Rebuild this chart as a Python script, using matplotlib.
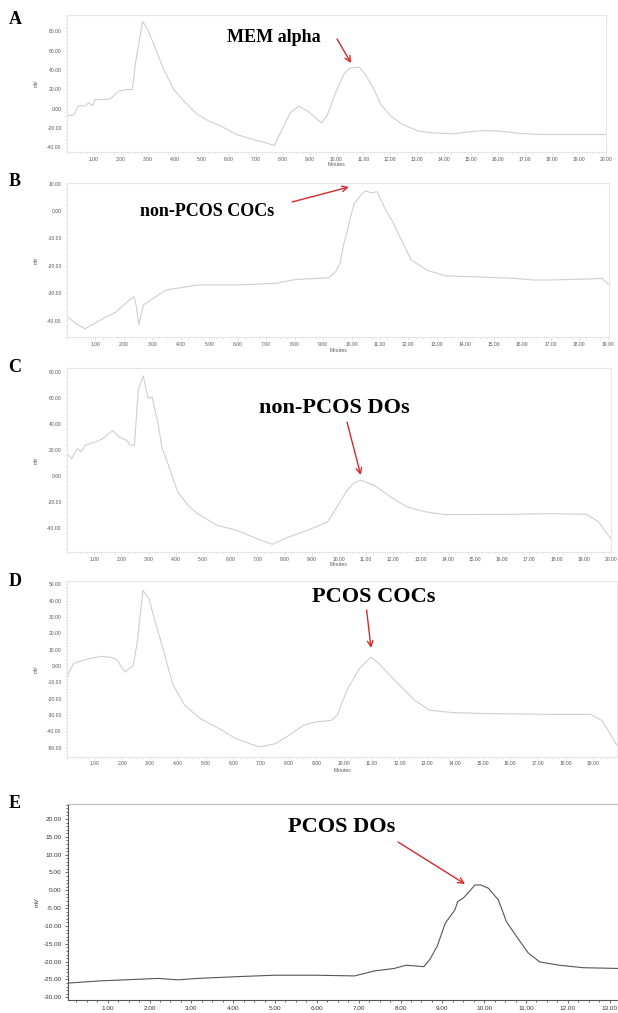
import matplotlib
matplotlib.use("Agg")
import matplotlib.pyplot as plt
from matplotlib.patches import FancyArrowPatch
from matplotlib.ticker import MultipleLocator, AutoMinorLocator, FormatStrFormatter

plt.rcParams['axes.unicode_minus'] = False
plt.rcParams['font.family'] = ['Liberation Sans', 'DejaVu Sans']

# chromatogram A - MEM alpha
a_min = [0.0, 0.26, 0.4, 0.52, 0.66, 0.8, 0.95, 1.03, 1.32, 1.61, 1.9, 2.2, 2.42, 2.56, 2.81, 3.0,
         3.3, 3.59, 3.96, 4.4, 4.84, 5.28, 5.72, 6.3, 6.9, 7.47, 7.69, 7.98, 8.28, 8.6, 8.94, 9.23,
         9.45, 9.67, 9.96, 10.26, 10.48, 10.85, 11.07, 11.36, 11.65, 12.02, 12.46, 13.05, 13.6,
         14.36, 14.8, 15.4, 16.1, 16.85, 17.7, 18.8, 20.0]
a_mv = [-8, -6.2, 2.4, 3.1, 2.4, 5.9, 3.1, 9.3, 9.3, 10, 17.9, 19.7, 19.7, 50.7, 90.3, 81.7,
        61, 40.3, 19.7, 5.9, -6.2, -13.1, -18.3, -26.9, -32, -36.2, -38.3, -21.7, -4.5, 2.4, -2.8, -9.7,
        -14.8, -6.2, 16.2, 35.2, 42, 42.8, 35.2, 21.4, 4.1, -7.9, -16.6, -23.4, -25.2,
        -26.2, -24.5, -22.8, -23.4, -25.9, -26.9, -26.9, -26.9]

# chromatogram B - non-PCOS COCs
b_min = [0.0, 0.3, 0.63, 1.14, 1.7, 2.25, 2.36, 2.44, 2.52, 2.6, 2.69, 3.2, 3.5, 4.0, 4.6, 6.0,
         7.35, 8.05, 9.2, 9.45, 9.6, 9.73, 9.86, 10.0, 10.1, 10.37, 10.5, 10.7, 10.9, 11.2, 11.45,
         11.7, 12.1, 12.65, 13.3, 14.3, 15.7, 16.4, 17.0, 18.4, 18.8, 19.05]
b_mv = [-38.5, -41, -43, -40, -37, -32, -31.3, -35, -41.6, -38, -34.3, -30.7, -28.8, -28, -27, -27,
        -26.4, -25, -24.4, -22, -19, -11.9, -7, -0.8, 2.7, 6.3, 7.3, 6.6, 7, 0.3, -4,
        -9.4, -17.9, -21.6, -23.7, -24, -24.6, -25.2, -25.2, -24.8, -24.6, -27]

# chromatogram C - non-PCOS DOs
c_min = [0.0, 0.17, 0.38, 0.52, 0.67, 1.03, 1.32, 1.68, 1.9, 2.19, 2.33, 2.48, 2.62, 2.8, 2.99,
         3.13, 3.35, 3.5, 3.71, 4.07, 4.5, 4.8, 5.52, 6.25, 6.97, 7.55, 7.99, 8.85, 9.58, 10.0,
         10.3, 10.55, 10.8, 11.3, 11.9, 12.5, 13.2, 13.9, 14.9, 16.4, 17.8, 19.1, 19.55, 19.8, 20.0]
c_mv = [17.2, 13.3, 21, 18.5, 23.6, 26, 28.7, 35, 30, 27.4, 23.6, 23.6, 66, 77, 59.5,
        60.8, 40, 21, 9.5, -12.3, -23.8, -29, -38, -41.8, -48.2, -52.6, -48.2, -41.8, -35.4, -21.3,
        -11, -5.5, -3.3, -7.2, -16.2, -23.8, -27.7, -29.7, -29.7, -29.5, -29, -29.5, -35.4, -43, -48.2]

# chromatogram D - PCOS COCs
d_min = [0.0, 0.1, 0.24, 0.38, 0.81, 1.24, 1.67, 1.81, 1.96, 2.1, 2.24, 2.38, 2.53, 2.74, 2.96,
         3.17, 3.38, 3.81, 4.24, 4.81, 5.38, 6.1, 6.95, 7.53, 8.1, 8.53, 8.96, 9.53, 9.75, 10.1,
         10.55, 10.97, 11.26, 11.83, 12.55, 13.1, 13.96, 15.4, 17.5, 18.9, 19.3, 19.6, 19.85]
d_mv = [-7.8, -2.7, 1.4, 2.4, 4.5, 5.9, 5.1, 3.5, -0.6, -3.7, -1.6, -0.2, 13.7, 46.3, 41,
        28, 15.7, -10.8, -24, -32.2, -37.3, -44.5, -49.6, -47.5, -41.4, -36.3, -34.3, -33.3, -30.2, -14.9,
        -1.6, 5.5, 1.4, -8.8, -21, -27.1, -28.6, -29.2, -29.6, -29.6, -33.3, -41.4, -48.6]

# chromatogram E - PCOS DOs
e_min = [0.06, 0.8, 2.2, 2.68, 3.14, 4.1, 5.0, 5.97, 6.9, 7.38, 7.85, 8.13, 8.56, 8.7, 8.88, 9.07,
         9.3, 9.37, 9.5, 9.64, 9.78, 9.92, 10.1, 10.34, 10.53, 10.77, 11.05, 11.33, 11.8, 12.37, 13.2]
e_mv = [-26, -25.4, -24.7, -25.1, -24.7, -24.2, -23.8, -23.8, -24, -22.6, -21.9, -21, -21.4, -19.4,
        -15.6, -9.2, -5.5, -3.1, -2.2, -0.4, 1.5, 1.5, 0.6, -2.7, -8.7, -12.9, -17.5, -20.1, -21, -21.7, -21.9]

panel_labels = ['A', 'B', 'C', 'D', 'E']
peak_labels = ['MEM alpha', 'non-PCOS COCs', 'non-PCOS DOs', 'PCOS COCs', 'PCOS DOs']

W, H = 618, 1013


# pixel box (left, top, right, bottom) -> figure fraction rect
def box(l, t, r, b):
    return [l / W, 1 - b / H, (r - l) / W, (b - t) / H]


# pixel point -> figure fraction
def px(x, y):
    return (x / W, 1 - y / H)


fig = plt.figure(figsize=(6.18, 10.13), dpi=100)

# faint chromatograms A-D: data, rect, xlim, ylim, y step, Minutes y, tick pad
panels = [
    (a_min, a_mv, box(67, 15, 606, 152), (0, 20), (-45, 97), 20, 165, 2),
    (b_min, b_mv, box(67, 183, 609, 337), (0, 19.05), (-46, 10.2), 10, 350, 2),
    (c_min, c_mv, box(67, 368, 611, 552), (0, 20), (-58.5, 83), 20, 564, 2),
    (d_min, d_mv, box(67, 581, 617, 757), (0, 19.85), (-55.7, 52), 10, 770, 0.8),
]

for xs, ys, rect, xl, yl, ystep, min_y, pad in panels:
    ax = fig.add_axes(rect)
    ax.plot(xs, ys, color='#cfcfcf', lw=0.8)
    ax.set_xlim(*xl)
    ax.set_ylim(*yl)
    ax.xaxis.set_major_locator(MultipleLocator(1))
    ax.xaxis.set_minor_locator(AutoMinorLocator(4))
    ax.yaxis.set_major_locator(MultipleLocator(ystep))
    ax.yaxis.set_minor_locator(AutoMinorLocator(5))
    ax.xaxis.set_major_formatter(FormatStrFormatter('%.2f'))
    ax.yaxis.set_major_formatter(FormatStrFormatter('%.2f'))
    ax.set_xticks([t for t in ax.get_xticks() if 1 <= t <= xl[1] + 0.01])
    for s in ax.spines.values():
        s.set_color('#e6e6e6')
        s.set_linewidth(0.8)
    ax.tick_params(which='both', colors='#dcdcdc', labelcolor='#555555', labelsize=3.6,
                   length=1.8, width=0.5, pad=2)
    ax.tick_params(axis='x', pad=pad)
    ax.tick_params(which='minor', length=1.1)
    ax.set_ylabel('mV', fontsize=3.6, color='#555555', labelpad=6)
    fig.text(rect[0] + rect[2] / 2, 1 - min_y / H, 'Minutes', fontsize=3.6, color='#555555',
             ha='center', va='center')

# darker chromatogram E
axe = fig.add_axes(box(68, 804, 618, 1000))
axe.plot(e_min, e_mv, color='#555555', lw=0.8)
axe.set_xlim(0.05, 13.2)
axe.set_ylim(-30.75, 24.2)
axe.xaxis.set_major_locator(MultipleLocator(1))
axe.xaxis.set_minor_locator(AutoMinorLocator(4))
axe.yaxis.set_major_locator(MultipleLocator(5))
axe.yaxis.set_minor_locator(AutoMinorLocator(5))
axe.xaxis.set_major_formatter(FormatStrFormatter('%.2f'))
axe.yaxis.set_major_formatter(FormatStrFormatter('%.2f'))
axe.set_xticks([t for t in axe.get_xticks() if 1 <= t <= 13.01])
axe.set_yticks([t for t in axe.get_yticks() if -30.01 <= t <= 20.01])
axe.spines['top'].set_color('#bbbbbb')
axe.spines['right'].set_visible(False)
axe.spines['left'].set_color('#555555')
axe.spines['bottom'].set_color('#555555')
axe.tick_params(which='both', colors='#555555', labelcolor='#333333', labelsize=4.6,
                length=2.5, width=0.6, pad=2)
axe.tick_params(which='minor', length=1.5)
axe.set_ylabel('mV', fontsize=4.6, color='#333333', labelpad=3)

# panel letters
letter_y = [20, 181, 367, 582, 803]
for lab, ly in zip(panel_labels, letter_y):
    fig.text(15 / W, 1 - ly / H, lab, fontsize=13, fontweight='bold', family='Liberation Serif',
             ha='center', va='center')

# peak annotations: text position, arrow tail, arrow head (pixels)
text_pos = [(274, 37), (207, 212), (334, 408), (374, 597), (342, 827)]
text_size = [13, 13, 16, 16, 16]
arrow_tail = [(337, 39), (292, 202), (347, 422), (366.6, 610), (398, 842)]
arrow_head = [(351, 63), (349, 187), (360.7, 475), (371, 648), (465, 884)]
for lab, tp, ts, at, ah in zip(peak_labels, text_pos, text_size, arrow_tail, arrow_head):
    fig.text(*px(*tp), lab, fontsize=ts, fontweight='bold', family='Liberation Serif',
             ha='center', va='center')
    fig.add_artist(FancyArrowPatch(
        px(*at), px(*ah), transform=fig.transFigure, arrowstyle='->,head_length=4,head_width=2',
        color='#d42a2a', lw=1.0, mutation_scale=1, shrinkA=0, shrinkB=0))

fig.savefig('out.png', dpi=100)
